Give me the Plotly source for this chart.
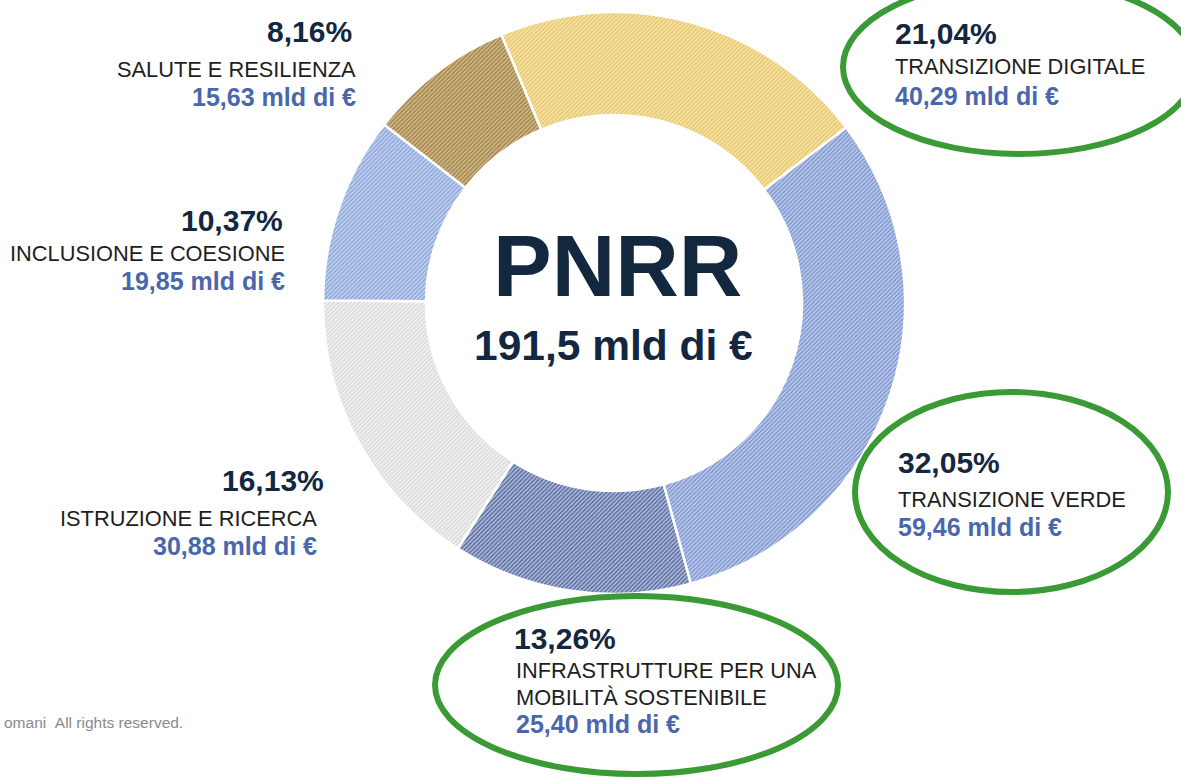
import plotly.graph_objects as go

# ---------------- data ----------------
categories = ["TRANSIZIONE DIGITALE", "TRANSIZIONE VERDE",
              "INFRASTRUTTURE PER UNA<br>MOBILITÀ SOSTENIBILE",
              "ISTRUZIONE E RICERCA", "INCLUSIONE E COESIONE",
              "SALUTE E RESILIENZA"]
amounts_mld = [40.29, 59.46, 25.40, 30.88, 19.85, 15.63]
percent_labels = [21.04, 32.05, 13.26, 16.13, 10.37, 8.16]
total_label = "191,5 mld di €"
center_title = "PNRR"
footer = "omani\u00a0\u00a0All rights reserved."

# ---------------- style ----------------
W, H = 1181, 777
bg_colors = ["#F6E3A6", "#BECCEC", "#AEBBDC", "#F2F2F2", "#C3D2EF", "#D3BB87"]
fg_colors = ["#E6C66C", "#7891CC", "#55689B", "#D8D8D8", "#88A2D7", "#9C7F46"]
NAVY = "#13273F"
BLUE = "#4A67AC"
TXT = "#1E1E1E"
GREEN = "#3A9A35"
FONT = "Liberation Sans, Arial, sans-serif"

cx, cy, R = 614, 303, 291
hole = 188 / 291


def px(x):
    return x / W


def py(y):
    return 1 - y / H


fig = go.Figure()
fig.add_trace(go.Pie(
    values=amounts_mld,
    labels=categories,
    sort=False,
    direction="clockwise",
    rotation=-22.8,
    hole=hole,
    textinfo="none",
    hoverinfo="skip",
    showlegend=False,
    marker=dict(
        colors=bg_colors,
        line=dict(color="white", width=2.5),
        pattern=dict(shape="/", bgcolor=bg_colors, fgcolor=fg_colors,
                     size=3, solidity=0.45, fillmode="replace"),
    ),
    domain=dict(x=[px(cx - R), px(cx + R)], y=[py(cy + R), py(cy - R)]),
))

# label layout: (anchor x, side, x of percent, y of percent, y of name line(s), y of value)
label_pos = [
    (894, "left", 894, 33, [66], 96),
    (897, "left", 897, 462, [499], 527),
    (515, "left", 513, 638, [670, 697], 724),
    (318, "right", 325, 480, [518], 546),
    (286, "right", 284, 220, [254], 281),
    (357, "right", 353, 32, [70], 97),
]

ann = []
for cat, amt, pct, (ax, side, pxx, yp, yn, yv) in zip(categories, amounts_mld,
                                                      percent_labels, label_pos):
    ann.append(dict(x=px(pxx), y=py(yp), text=f"{pct:.2f}%".replace(".", ","),
                    font=dict(family=FONT, size=30, color=NAVY, weight="bold"),
                    xanchor=side, yanchor="middle"))
    for line, yy in zip(cat.split("<br>"), yn):
        ann.append(dict(x=px(ax), y=py(yy), text=line,
                        font=dict(family=FONT, size=21.8, color=TXT),
                        xanchor=side, yanchor="middle"))
    ann.append(dict(x=px(ax), y=py(yv),
                    text=f"{amt:.2f}".replace(".", ",") + " mld di €",
                    font=dict(family=FONT, size=25, color=BLUE, weight="bold"),
                    xanchor=side, yanchor="middle"))

ann.append(dict(x=px(617), y=py(265), text=center_title,
                font=dict(family=FONT, size=88, color=NAVY, weight="bold"),
                xanchor="center", yanchor="middle"))
ann.append(dict(x=px(613), y=py(346), text=total_label,
                font=dict(family=FONT, size=42.5, color=NAVY, weight="bold"),
                xanchor="center", yanchor="middle"))
ann.append(dict(x=px(3), y=py(722), text=footer,
                font=dict(family=FONT, size=15.5, color="#8A8A8A"),
                xanchor="left", yanchor="middle"))

for a in ann:
    a.update(xref="paper", yref="paper", showarrow=False, borderpad=0)

# green highlight ellipses (pixel boxes)
ellipses = [(843, -20, 1196, 154), (855, 392, 1168, 592), (435, 596, 838, 774)]
shapes = [dict(type="circle", xref="paper", yref="paper",
               x0=px(x0), x1=px(x1), y0=py(y1), y1=py(y0),
               line=dict(color=GREEN, width=6))
          for x0, y0, x1, y1 in ellipses]

fig.update_layout(
    width=W, height=H,
    margin=dict(l=0, r=0, t=0, b=0),
    paper_bgcolor="white", plot_bgcolor="white",
    annotations=ann, shapes=shapes,
)

fig.write_html("out.html", config={"displayModeBar": False},
               post_script="document.body.style.margin='0';")
